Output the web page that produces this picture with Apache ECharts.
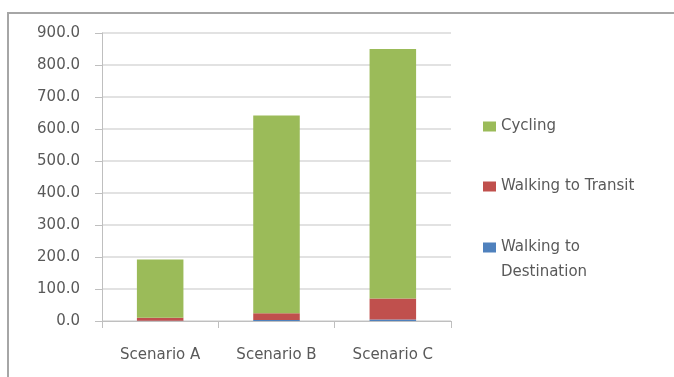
<!DOCTYPE html>
<html>
<head>
<meta charset="utf-8">
<script src="https://cdn.jsdelivr.net/npm/echarts@6/dist/echarts.min.js"></script>
<style>
  html, body { margin: 0; padding: 0; background: #fff; }
  #wrap { position: relative; width: 674px; height: 377px; overflow: hidden; }
  #frame { position: absolute; left: 7px; top: 12px; width: 700px; height: 400px;
           border-left: 2px solid #a6a6a6; border-top: 2px solid #a6a6a6; }
  #chart { position: absolute; left: 0; top: 0; width: 674px; height: 377px; }
</style>
</head>
<body>
<div id="wrap">
  <div id="frame"></div>
  <div id="chart"></div>
</div>
<script>
const categories = ["Scenario A", "Scenario B", "Scenario C"];
const walkingDestination = [0.5, 3, 5];
const walkingTransit = [10, 21, 65];
const cycling = [182, 618, 780];
const yTicks = [0, 100, 200, 300, 400, 500, 600, 700, 800, 900];

const font = "DejaVu Sans";
const textColor = "#595959";

const chart = echarts.init(document.getElementById("chart"));

const legendText = { fontFamily: font, fontSize: 15, color: textColor };

const option = {
  animation: false,
  grid: { left: 102, right: 223, top: 33, bottom: 56 },
  legend: [
    {
      data: ["Cycling"],
      left: 478, top: 114,
      icon: "rect",
      itemWidth: 13, itemHeight: 10,
      textStyle: legendText,
    },
    {
      data: ["Walking to Transit"],
      left: 478, top: 174,
      icon: "rect",
      itemWidth: 13, itemHeight: 10,
      textStyle: legendText,
    },
    {
      // blank first line keeps the square beside "Walking to"
      data: ["Walking to Destination"],
      left: 478, top: 205,
      icon: "rect",
      itemWidth: 13, itemHeight: 10,
      formatter: () => " \nWalking to\nDestination",
      textStyle: { ...legendText, lineHeight: 25 },
    },
  ],
  xAxis: {
    type: "category",
    data: categories,
    axisLine: { lineStyle: { color: "#bfbfbf", width: 1 } },
    axisTick: { show: true, length: 7, lineStyle: { color: "#bfbfbf" } },
    axisLabel: { margin: 27, fontFamily: font, fontSize: 15, color: textColor },
  },
  yAxis: {
    type: "value",
    min: yTicks[0],
    max: yTicks[yTicks.length - 1],
    interval: 100,
    axisLine: { show: true, lineStyle: { color: "#bfbfbf", width: 1 } },
    axisTick: { show: true, length: 7, lineStyle: { color: "#bfbfbf" } },
    splitLine: { lineStyle: { color: "#d9d9d9", width: 1.5 } },
    axisLabel: {
      margin: 22,
      fontFamily: font,
      fontSize: 15,
      color: textColor,
      formatter: (v) => v.toFixed(1),
    },
  },
  series: [
    {
      name: "Walking to Destination",
      type: "bar",
      stack: "total",
      barWidth: "40%",
      data: walkingDestination,
      itemStyle: { color: "#4f81bd" },
    },
    {
      name: "Walking to Transit",
      type: "bar",
      stack: "total",
      data: walkingTransit,
      itemStyle: { color: "#c0504d" },
    },
    {
      name: "Cycling",
      type: "bar",
      stack: "total",
      data: cycling,
      itemStyle: { color: "#9bbb59" },
    },
  ],
};

chart.setOption(option);

window.addEventListener("resize", function () {
  chart.resize();
});
</script>
</body>
</html>
